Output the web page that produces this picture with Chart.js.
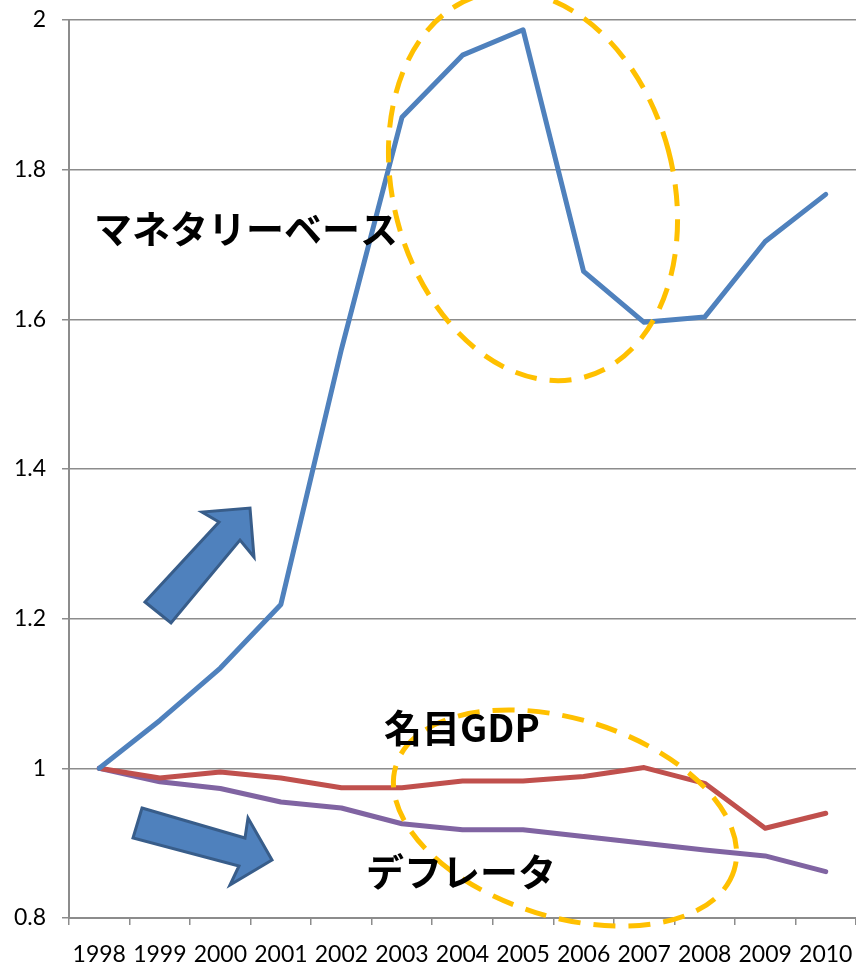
<!DOCTYPE html>
<html>
<head>
<meta charset="utf-8">
<script src="https://cdn.jsdelivr.net/npm/chart.js@4"></script>
<style>
    html, body { margin: 0; padding: 0; background: #fff; overflow: hidden; }
    #wrap { width: 856px; height: 962px; }
</style>
</head>
<body>
<div id="wrap"><canvas id="mbChart" width="856" height="962"></canvas></div>
<script>
// Index, 1998 = 1
const years = ['1998', '1999', '2000', '2001', '2002', '2003', '2004', '2005', '2006', '2007', '2008', '2009', '2010'];
const monetaryBase = [1.0, 1.064, 1.134, 1.219, 1.56, 1.870, 1.953, 1.987, 1.664, 1.596, 1.603, 1.704, 1.767];
const nominalGdp = [1.0, 0.987, 0.995, 0.987, 0.974, 0.974, 0.983, 0.983, 0.989, 1.001, 0.980, 0.920, 0.940];
const deflator = [1.0, 0.982, 0.973, 0.955, 0.947, 0.926, 0.918, 0.918, 0.909, 0.900, 0.891, 0.883, 0.862];
const yTicks = [0.8, 1.0, 1.2, 1.4, 1.6, 1.8, 2.0];

const axisGray = '#8c8c8c';
const jpFont = '"Noto Sans CJK JP", "Noto Sans", sans-serif';
const tickFont = 'Lato, "Open Sans", sans-serif';

// Dashed ellipses, block arrows and labels drawn over the lines
const annotations = {
    id: 'annotations',
    afterDatasetsDraw(chart) {
        const ctx = chart.ctx;
        ctx.save();

        // dashed circles
        ctx.strokeStyle = '#FFC000';
        ctx.lineWidth = 5;
        ctx.setLineDash([22, 13]);
        ctx.beginPath();
        ctx.ellipse(533, 186, 140, 198, -0.26, 0, Math.PI * 2);
        ctx.stroke();
        ctx.beginPath();
        ctx.ellipse(565, 818, 177, 99, 0.3, 0, Math.PI * 2);
        ctx.stroke();
        ctx.setLineDash([]);

        // block arrows
        const arrows = [
            [[145, 602], [219, 522], [202, 512], [250, 508], [254, 557], [240, 540], [171, 623]],
            [[142, 808], [245, 838], [248, 818], [272, 860], [230, 885], [239, 866], [133, 838]]
        ];
        ctx.fillStyle = '#4F81BD';
        ctx.strokeStyle = '#385D8A';
        ctx.lineWidth = 3;
        ctx.lineJoin = 'miter';
        arrows.forEach(pts => {
            ctx.beginPath();
            pts.forEach((p, i) => i ? ctx.lineTo(p[0], p[1]) : ctx.moveTo(p[0], p[1]));
            ctx.closePath();
            ctx.fill();
            ctx.stroke();
        });

        // series labels
        ctx.fillStyle = '#000';
        ctx.textBaseline = 'middle';
        ctx.textAlign = 'left';
        ctx.font = 'bold 38px ' + jpFont;
        ctx.fillText('マネタリーベース', 94, 229);
        ctx.fillText('名目GDP', 384, 728);
        ctx.fillText('デフレータ', 366, 872);

        ctx.restore();
    }
};

const lineStyle = {
    borderWidth: 5,
    pointRadius: 0,
    tension: 0,
    fill: false,
    borderJoinStyle: 'round',
    borderCapStyle: 'round'
};

new Chart(document.getElementById('mbChart'), {
    type: 'line',
    data: {
        labels: years,
        datasets: [
            Object.assign({ label: 'マネタリーベース', data: monetaryBase, borderColor: '#4F81BD' }, lineStyle),
            Object.assign({ label: '名目GDP', data: nominalGdp, borderColor: '#C0504D' }, lineStyle),
            Object.assign({ label: 'デフレータ', data: deflator, borderColor: '#8064A2' }, lineStyle)
        ]
    },
    options: {
        responsive: false,
        animation: false,
        layout: {
            padding: { top: 20, right: 0, left: 0, bottom: 0 }
        },
        plugins: {
            legend: { display: false },
            tooltip: { enabled: false }
        },
        scales: {
            x: {
                offset: true,
                grid: {
                    offset: true,
                    drawOnChartArea: false,
                    drawTicks: true,
                    tickLength: 7,
                    color: axisGray,
                    lineWidth: 1.5
                },
                border: { color: axisGray, width: 2 },
                ticks: {
                    autoSkip: false,
                    maxRotation: 0,
                    minRotation: 0,
                    padding: 16,
                    color: '#000',
                    font: { family: tickFont, size: 23 }
                },
                afterFit(scale) {
                    scale.height = 44;
                    scale.paddingLeft = 0;
                    scale.paddingRight = 0;
                }
            },
            y: {
                min: 0.8,
                max: 2.0,
                afterBuildTicks(scale) {
                    scale.ticks = yTicks.map(v => ({ value: v }));
                },
                grid: {
                    color: axisGray,
                    lineWidth: 1.5,
                    tickLength: 7
                },
                border: { color: axisGray, width: 2 },
                ticks: {
                    padding: 16,
                    color: '#000',
                    font: { family: tickFont, size: 23 },
                    callback: function(value) {
                        return String(Number(value.toFixed(1)));
                    }
                },
                afterFit(scale) {
                    scale.width = 69;
                    scale.paddingTop = 0;
                    scale.paddingBottom = 0;
                }
            }
        }
    },
    plugins: [annotations]
});
</script>
</body>
</html>
